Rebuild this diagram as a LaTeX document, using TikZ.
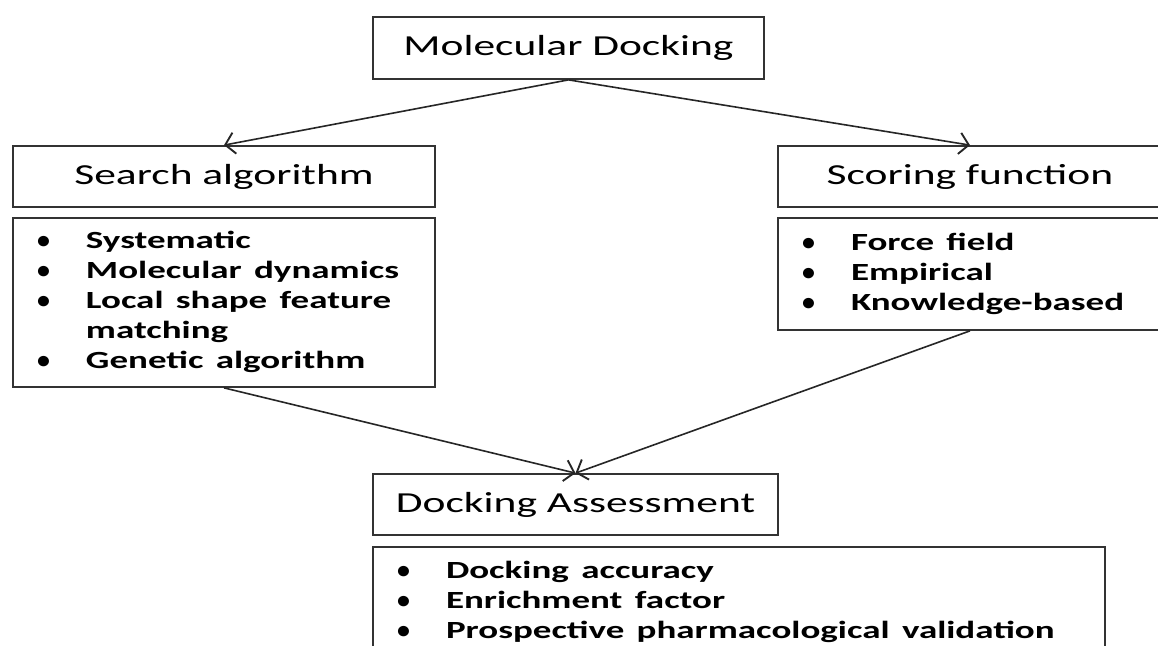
\documentclass[tikz,border=0pt]{standalone}
\usepackage{fontspec}
\setmainfont{Carlito}
\usetikzlibrary{arrows.meta}

% stretch the text sideways, the figure is wide
\newcommand{\wide}[1]{\scalebox{1.5}[1]{#1}}
\newcommand{\bul}{\scalebox{0.7}[1]{\textbullet}}

\begin{document}
\begin{tikzpicture}[x=0.75pt,y=-0.75pt,
    box/.style={draw=black!80, line width=1.3pt, inner sep=0pt, text=black},
    head/.style={box, font=\fontsize{21.75}{26}\selectfont},
    items/.style={box, inner xsep=18pt, align=left, font=\fontsize{18.5}{22.5}\selectfont\bfseries},
    arr/.style={-{Straight Barb[length=7pt,width=16pt,line width=1.4pt]}, line width=1.2pt, draw=black!85}]

  \def \px {0.75pt}
  \def \hh {61*\px} % height of the title boxes

  \useasboundingbox (0,0) rectangle (1158,646);
  \clip (0,0) rectangle (1158,646);
  \fill[white] (0,0) rectangle (1158,646);

  % titles
  \node[head, minimum width=391*\px, minimum height=62*\px] (dock) at (568.5,48) {\wide{Molecular Docking}};
  \node[head, minimum width=422*\px, minimum height=\hh] (search) at (224,176.5) {\wide{Search algorithm}};
  \node[head, minimum width=384*\px, minimum height=\hh] (score) at (970,176.5) {\wide{Scoring function}};
  \node[head, minimum width=405*\px, minimum height=\hh] (assess) at (575.5,504.5) {\wide{Docking Assessment}};

  % lists
  \node[items, text width=374*\px, minimum height=169*\px] (searchlist) at (224,302.5)
    {\wide{\begin{tabular}{@{}p{24.5pt}@{}l@{}}
      \bul & Systematic\\
      \bul & Molecular dynamics\\
      \bul & Local shape feature\\
           & matching\\
      \bul & Genetic algorithm
    \end{tabular}}};
  \node[items, text width=336*\px, minimum height=112*\px] (scorelist) at (970,274)
    {\wide{\begin{tabular}{@{}p{24.5pt}@{}l@{}}
      \bul & Force field\\
      \bul & Empirical\\
      \bul & Knowledge-based
    \end{tabular}}};
  \node[items, text width=684*\px, minimum height=111*\px] (assesslist) at (739,602.5)
    {\wide{\begin{tabular}{@{}p{24.5pt}@{}l@{}}
      \bul & Docking accuracy\\
      \bul & Enrichment factor\\
      \bul & Prospective pharmacological validation
    \end{tabular}}};

  % connectors
  \draw[arr] (dock.south) -- (search.north);
  \draw[arr] (dock.south) -- (score.north);
  \draw[arr] (searchlist.south) -- (assess.north);
  \draw[arr] (scorelist.south) -- (assess.north);

\end{tikzpicture}
\end{document}
